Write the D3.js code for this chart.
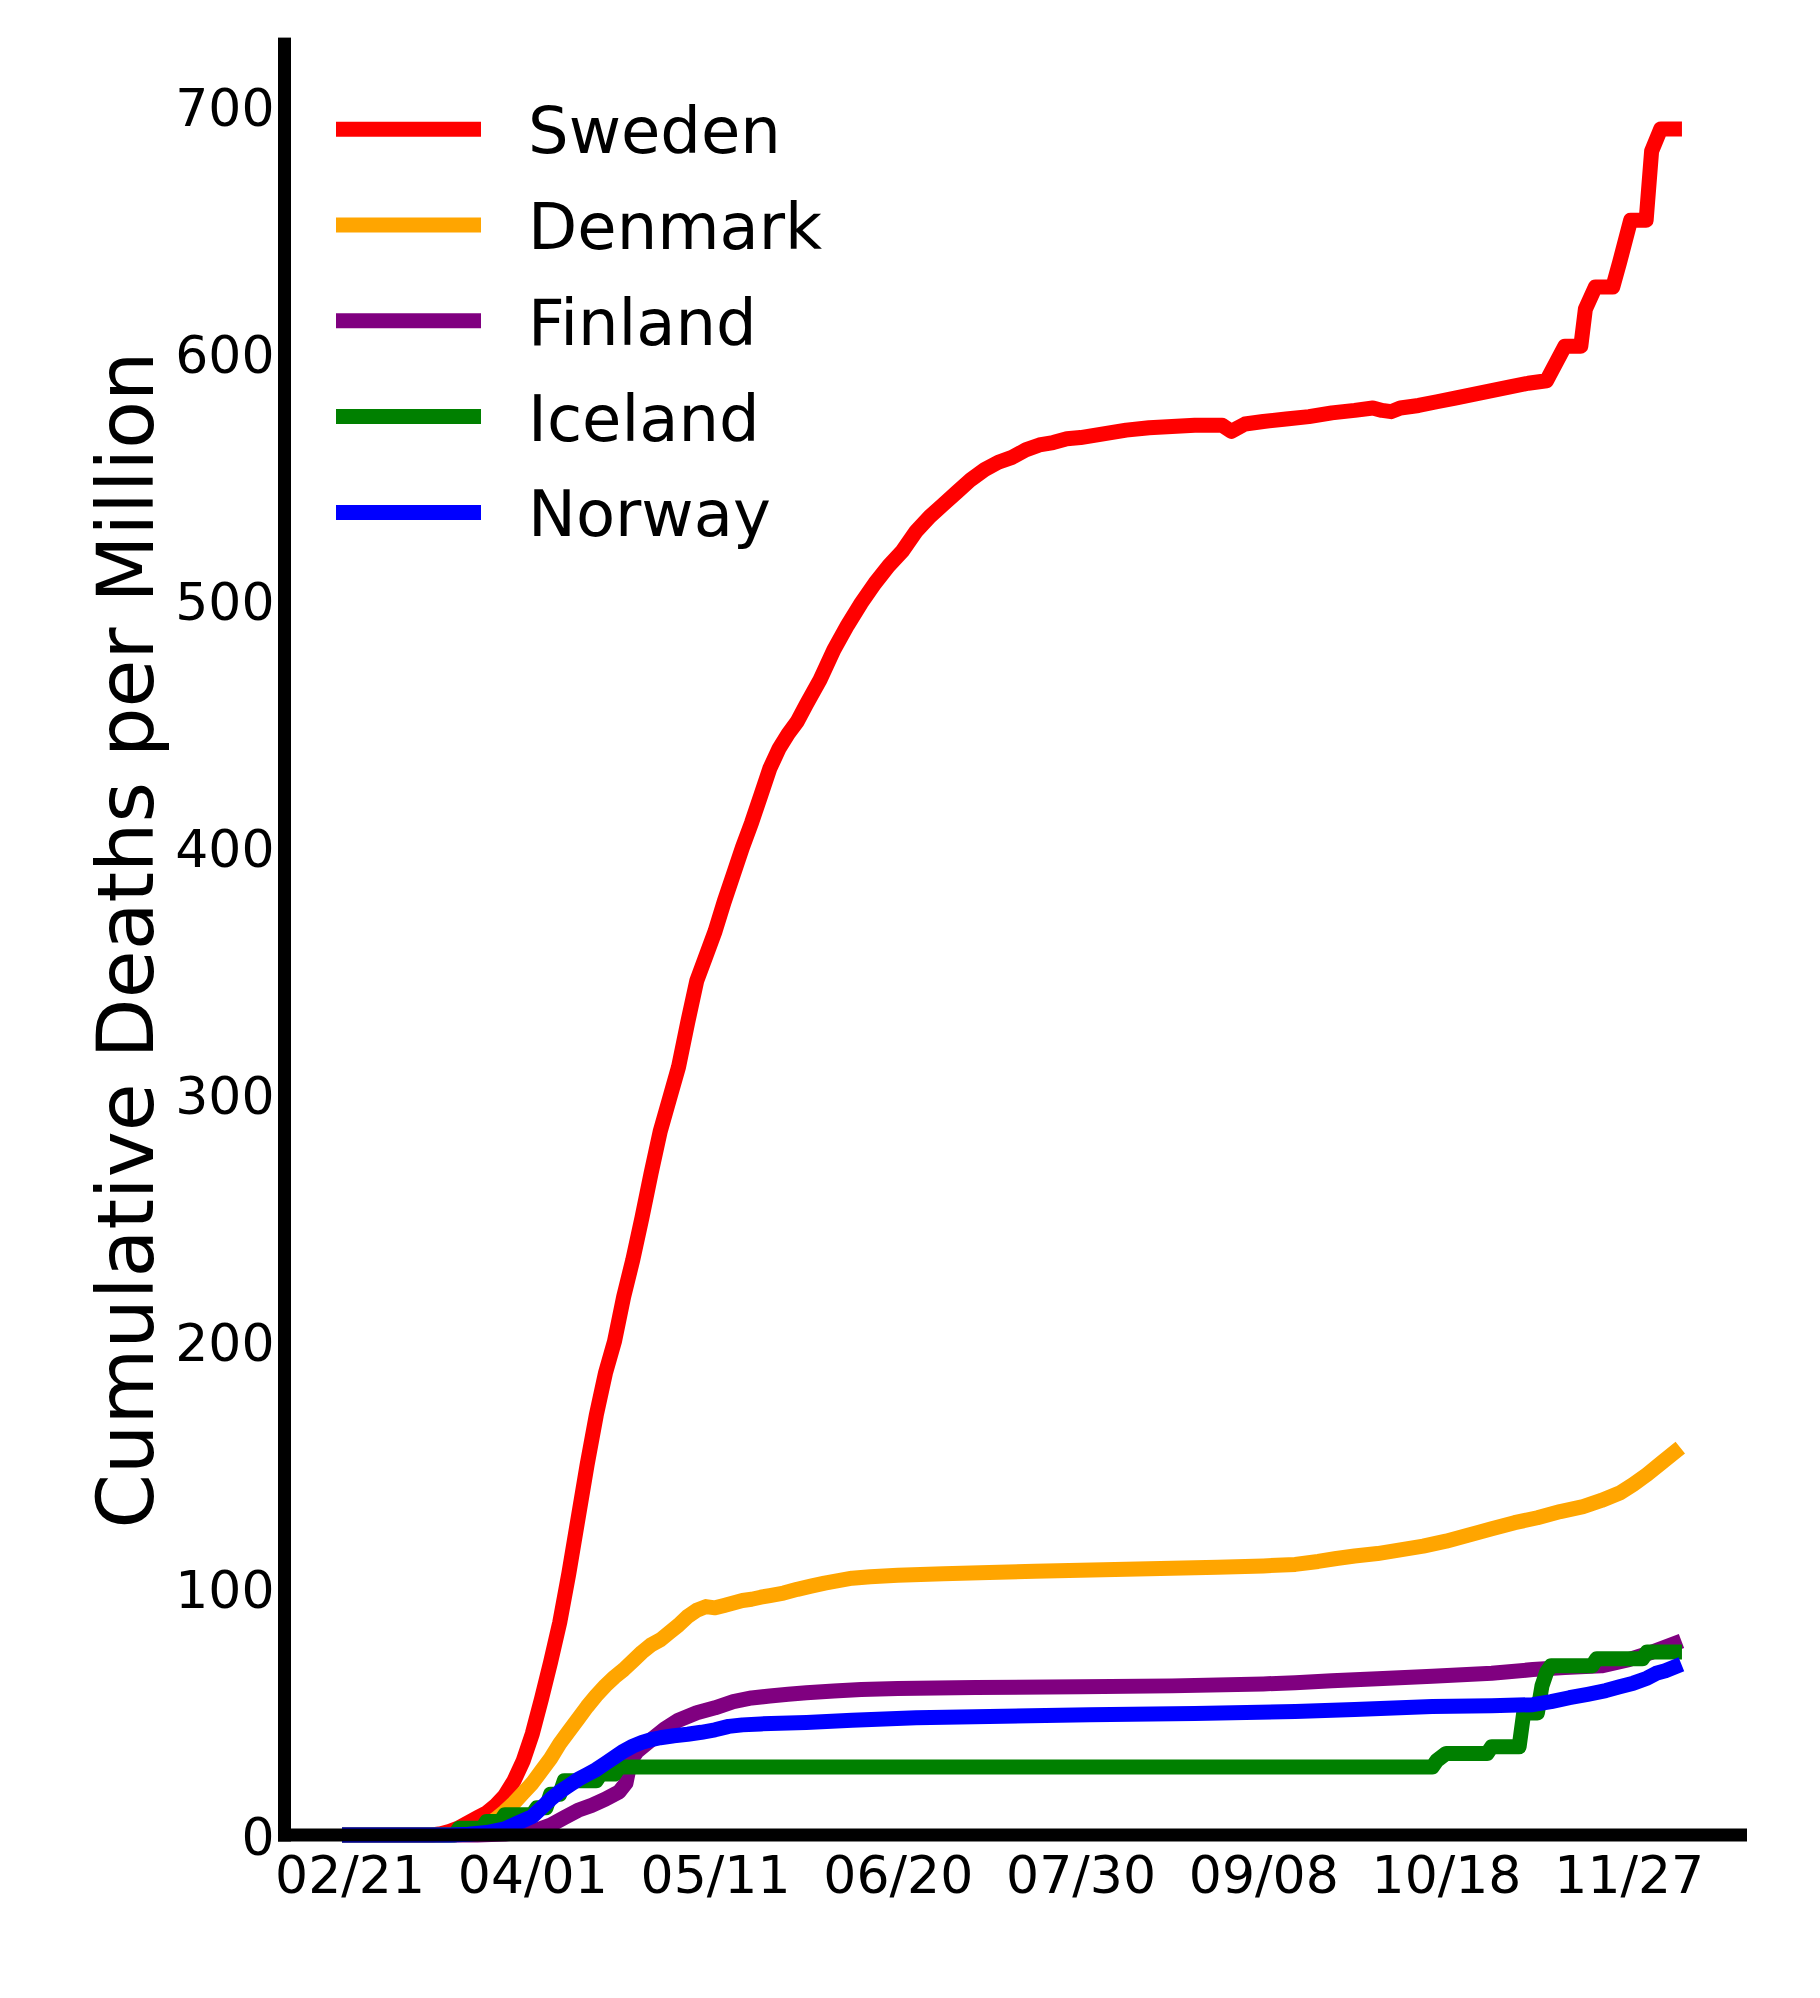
<!DOCTYPE html>
<html><head><meta charset="utf-8">
<script src="https://cdn.jsdelivr.net/npm/d3@7/dist/d3.min.js"></script>
<style>html,body{margin:0;padding:0;background:#fff;} svg{display:block;}</style>
</head><body><svg id="chart" width="1820" height="1998"></svg>
<script>
const countries = ["Sweden", "Denmark", "Finland", "Iceland", "Norway"];
const colors = ["#ff0000", "#ffa500", "#800080", "#008000", "#0000ff"];
const xTickDays = [0, 40, 80, 120, 160, 200, 240, 280];
const xTickLabels = ["02/21", "04/01", "05/11", "06/20", "07/30", "09/08", "10/18", "11/27"];
const yTicks = [0, 100, 200, 300, 400, 500, 600, 700];
const yTitle = "Cumulative Deaths per Million";

// [day since 2020-02-21, cumulative deaths per million]
const sweden = [[0,0],[18,0],[20,0.5],[22,1.5],[24,3],[26,5],[28,7],[30,9],[32,12],[34,16],[36,22],[38,30],[40,41],[42,55],[44,70],[46,86],[48,106],[50,128],[52,150],[54,170],[56,187],[58,200],[60,218],[62,233],[64,250],[66,268],[68,285],[70,298],[72,311],[74,329],[76,346],[78,356],[80,366],[82,378],[84,389],[86,400],[88,410],[90,421],[92,432],[94,440],[96,446],[98,451],[100,458],[103,468],[106,480],[109,490],[112,499],[115,507],[118,514],[121,520],[124,528],[127,534],[130,539],[133,544],[136,549],[139,553],[142,556],[145,558],[148,561],[151,563],[154,564],[157,565.5],[160,566],[165,567.5],[170,569],[175,570],[180,570.5],[185,571],[191,571],[193,568.5],[196,571.5],[200,572.5],[205,573.5],[210,574.5],[215,576],[220,577],[224,578],[226,577],[228,576.5],[230,578],[234,579],[238,580.5],[242,582],[246,583.5],[250,585],[254,586.5],[258,588],[262,589],[264,596],[266,603],[269.5,603],[270.5,618],[272.7,627],[276.5,627],[278,637],[280.4,654],[283.8,654],[285,682],[287,691],[290,691]];
const denmark = [[0,0],[20,0],[23,0.3],[26,1],[28,2],[30,4],[32,6.5],[34,9.5],[36,13],[38,17],[40,21],[42,26],[44,31],[46,37],[48,42],[50,47],[52,52],[54,56.5],[56,60.5],[58,64],[60,67],[62,70.5],[64,74],[66,77],[68,79],[70,82],[72,85],[74,88.5],[76,91],[78,92.5],[80,92],[82,93],[84,94],[86,95],[88,95.5],[90,96.3],[92,97],[95,98],[98,99.5],[101,100.8],[104,102],[107,103],[110,104],[114,104.6],[120,105.2],[130,105.8],[140,106.3],[150,106.8],[160,107.2],[170,107.6],[180,108],[190,108.4],[200,109],[207,109.6],[212,110.8],[216,112],[220,113],[225,114],[230,115.5],[235,117],[240,119],[245,121.5],[250,124],[255,126.5],[260,128.5],[265,131],[270,133],[274,135.5],[278,138.5],[281,142],[284,146],[287,150.5],[290,155]];
const finland = [[0,0],[28,0],[34,0.4],[38,1.2],[41,2],[44,4],[47,7],[50,10],[53,12],[56,14.5],[59,17.5],[60.5,21],[61.5,30],[63,34],[66,38.5],[69,43],[72,46.5],[76,49.5],[80,51.5],[84,54],[88,55.5],[92,56.3],[96,57],[100,57.6],[106,58.3],[112,58.9],[120,59.3],[137,59.7],[160,60],[180,60.4],[200,61.2],[207,61.7],[215,62.5],[225,63.3],[237,64.3],[250,65.5],[259,67],[266,67.8],[274,68.5],[280,71],[285,74],[290,77.5]];
const iceland = [[0,0],[23,0],[24,2.75],[29,2.75],[30,5.5],[33,5.5],[34,8.2],[40,8.2],[41,11],[43,11],[44,16.5],[46,16.5],[47,22],[54,22],[55,24.7],[58,24.7],[59,27.5],[237,27.5],[238,30.2],[240,33],[249,33],[250,35.7],[256,35.7],[257,49.4],[260,49.4],[261,60.4],[262,65.9],[263,68.6],[272,68.6],[273,71.4],[283,71.4],[284,74.1],[290,74.1]];
const norway = [[0,0],[22,0],[26,0.3],[30,1],[34,2.5],[37,5],[40,7.5],[42,11],[44,14.5],[46,17.5],[48,20],[50,22.5],[52,24.5],[54,26.5],[56,29],[58,31.5],[60,34],[62,36],[64,37.5],[66,38.6],[68,39.4],[71,40.2],[74,40.8],[77,41.6],[80,42.6],[83,44],[86,44.6],[90,45],[100,45.6],[110,46.5],[124,47.5],[140,48],[162,48.7],[185,49.2],[207,50],[220,50.8],[237,52],[250,52.3],[259,52.8],[263,54],[267,55.6],[271,57],[275,58.5],[278,60],[281,61.5],[284,63.5],[286,65.5],[288,66.5],[290,68]];
const seriesData = [sweden, denmark, finland, iceland, norway];

const FONT = "DejaVu Sans, Verdana, sans-serif";
const svg = d3.select("#chart");
svg.append("rect").attr("width", 1820).attr("height", 1998).attr("fill", "#fff");

const x = d3.scaleLinear().domain([-14.5, 304.5]).range([283.3, 1740.7]);
const y = d3.scaleLinear().domain([0, 728]).range([1835, 37.6]);

const line = d3.line().x(d => x(d[0])).y(d => y(d[1]));

// series
seriesData.forEach((s, i) => {
  svg.append("path").datum(s)
    .attr("d", line)
    .attr("fill", "none")
    .attr("stroke", colors[i])
    .attr("stroke-width", 15)
    .attr("stroke-linejoin", "round")
    .attr("stroke-linecap", "square");
});

// spines
const sw = 13;
const x0 = x.range()[0] + 1.2;
svg.append("rect").attr("x", x0 - sw/2).attr("y", y.range()[1])
  .attr("width", sw).attr("height", y(0) + sw/2 - y.range()[1]).attr("fill", "#000");
svg.append("rect").attr("x", x0 - sw/2).attr("y", y(0) - sw/2)
  .attr("width", x.range()[1] + 6.3 - (x0 - sw/2)).attr("height", sw).attr("fill", "#000");

// x axis
const xAxis = d3.axisBottom(x).tickValues(xTickDays)
  .tickFormat((d, i) => xTickLabels[i]).tickSize(0).tickPadding(21);
const gx = svg.append("g").attr("transform", `translate(0,${y(0)})`).call(xAxis);
gx.select(".domain").remove();
gx.selectAll("text").attr("font-family", FONT).attr("font-size", 52).attr("fill", "#000");

// y axis
const yAxis = d3.axisLeft(y).tickValues(yTicks).tickFormat(d3.format("d")).tickSize(0).tickPadding(10);
const gy = svg.append("g").attr("transform", `translate(${x0},0)`).call(yAxis);
gy.select(".domain").remove();
gy.selectAll("text").attr("font-family", FONT).attr("font-size", 52).attr("fill", "#000").attr("dy", "0.37em");

// y title
svg.append("text")
  .attr("transform", `translate(153,940) rotate(-90)`)
  .attr("text-anchor", "middle")
  .attr("font-family", FONT).attr("font-size", 78).attr("fill", "#000")
  .text(yTitle);

// legend
const legend = svg.append("g");
countries.forEach((c, i) => {
  const cy = 129.2 + i * 95.8;
  legend.append("line").attr("x1", 336).attr("x2", 481).attr("y1", cy).attr("y2", cy)
    .attr("stroke", colors[i]).attr("stroke-width", 15);
  legend.append("text").attr("x", 528).attr("y", cy + 24)
    .attr("font-family", FONT).attr("font-size", 64).attr("fill", "#000").text(c);
});
</script></body></html>
